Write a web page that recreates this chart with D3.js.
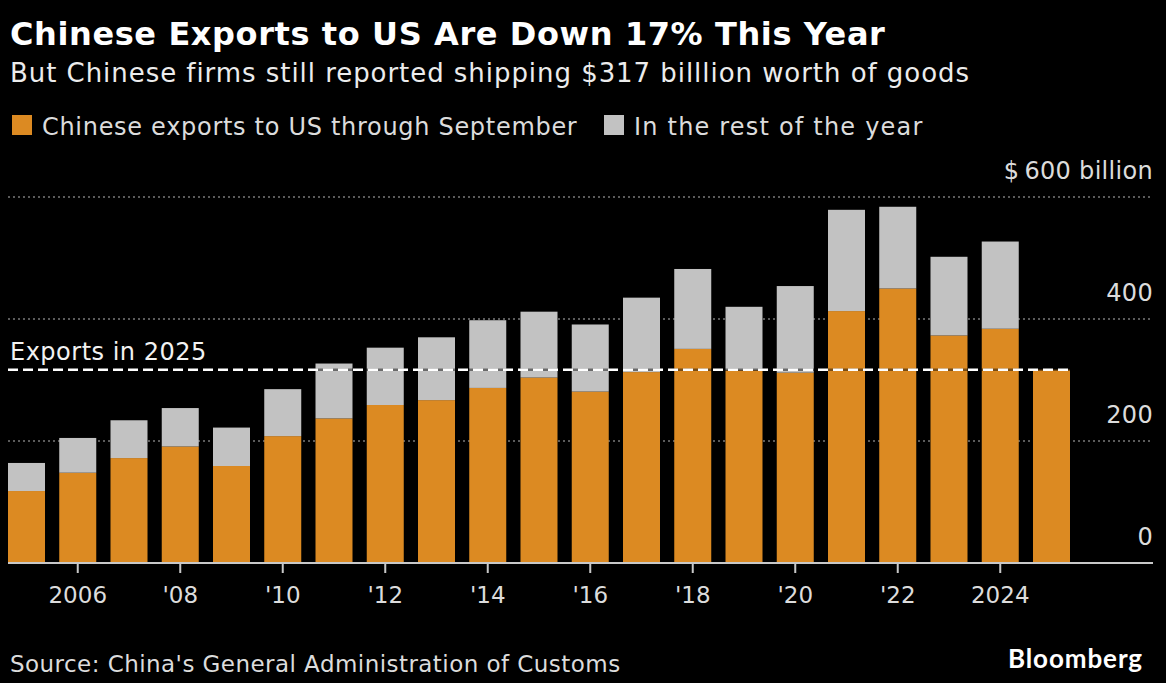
<!DOCTYPE html>
<html>
<head>
<meta charset="utf-8">
<script src="https://cdn.jsdelivr.net/npm/d3@7"></script>
<style>
  html, body { margin: 0; padding: 0; background: #000; }
  svg { display: block; font-family: "DejaVu Sans", sans-serif; }
</style>
</head>
<body>
<svg id="chart" width="1166" height="683"></svg>
<script>
// Years on the x axis
var years = [2005, 2006, 2007, 2008, 2009, 2010, 2011, 2012, 2013, 2014, 2015,
             2016, 2017, 2018, 2019, 2020, 2021, 2022, 2023, 2024, 2025];

// Exports to US Jan-Sep ($ billion)
var throughSep = [118, 148, 172, 191, 159, 208, 237, 259, 267, 287, 304,
                  281, 313, 351, 316, 312, 413, 450, 373, 384, 317];

// Exports to US Oct-Dec ($ billion), nothing yet for 2025
var restOfYear = [46, 57, 62, 63, 63, 77, 90, 94, 103, 111, 108,
                  110, 122, 131, 104, 142, 166, 134, 129, 143, 0];

// 2025 reference line
var exports2025 = 317;

// axis ticks
var xTickYears = [2006, 2008, 2010, 2012, 2014, 2016, 2018, 2020, 2022, 2024];
var xTickLabels = ["2006", "'08", "'10", "'12", "'14", "'16", "'18", "'20", "'22", "2024"];
var yTicks = [0, 200, 400, 600];
var yTickLabels = ["0", "200", "400", "$\u2009600 billion"];

var seriesNames = ["Chinese exports to US through September", "In the rest of the year"];
var seriesColors = ["#dc8a22", "#c2c2c2"];

var svg = d3.select("#chart");

// Header
svg.append("text")
  .attr("x", 10).attr("y", 45)
  .attr("fill", "#fff")
  .attr("font-size", 32).attr("font-weight", "bold")
  .attr("letter-spacing", 0.6)
  .text("Chinese Exports to US Are Down 17% This Year");

svg.append("text")
  .attr("x", 10).attr("y", 82)
  .attr("fill", "#ececec")
  .attr("font-size", 26)
  .attr("letter-spacing", 0.95)
  .text("But Chinese firms still reported shipping $317 billlion worth of goods");

// Legend
var legendX = [12, 604];
var legendSpacing = [0.7, 1.2];
seriesNames.forEach(function(name, i) {
  svg.append("rect")
    .attr("x", legendX[i]).attr("y", 115)
    .attr("width", 20).attr("height", 20)
    .attr("fill", seriesColors[i]);
  svg.append("text")
    .attr("x", legendX[i] + 30).attr("y", 135)
    .attr("fill", "#dcdcdc")
    .attr("font-size", 24)
    .attr("letter-spacing", legendSpacing[i])
    .text(name);
});

// Scales
var x = d3.scaleBand()
  .domain(years)
  .range([8, 1070])
  .paddingInner(0.278)
  .paddingOuter(0);

var y = d3.scaleLinear()
  .domain([0, 600])
  .range([563, 197]);

// Gridlines (dotted)
svg.append("g")
  .selectAll("line")
  .data(yTicks.filter(function(d) { return d > 0; }))
  .join("line")
  .attr("x1", 8).attr("x2", 1153)
  .attr("y1", function(d) { return y(d); })
  .attr("y2", function(d) { return y(d); })
  .attr("stroke", "#7a7a7a")
  .attr("stroke-width", 1.5)
  .attr("stroke-dasharray", "2,3");

// Right-hand y labels sit above their gridlines
svg.append("g")
  .selectAll("text")
  .data(yTicks)
  .join("text")
  .attr("x", 1153)
  .attr("y", function(d) { return y(d) - 18; })
  .attr("text-anchor", "end")
  .attr("fill", "#dcdcdc")
  .attr("font-size", 24)
  .attr("letter-spacing", 0.3)
  .text(function(d, i) { return yTickLabels[i]; });

// Stacked bars
var table = years.map(function(yr, i) {
  return { year: yr, sep: throughSep[i], rest: restOfYear[i] };
});
var stacked = d3.stack().keys(["sep", "rest"])(table);

svg.append("g")
  .selectAll("g")
  .data(stacked)
  .join("g")
  .attr("fill", function(d, i) { return seriesColors[i]; })
  .selectAll("rect")
  .data(function(d) { return d; })
  .join("rect")
  .attr("x", function(d) { return x(d.data.year); })
  .attr("y", function(d) { return y(d[1]); })
  .attr("width", x.bandwidth())
  .attr("height", function(d) { return y(d[0]) - y(d[1]); });

// Baseline + ticks
svg.append("line")
  .attr("x1", 8).attr("x2", 1153)
  .attr("y1", y(0)).attr("y2", y(0))
  .attr("stroke", "#c8c8c8")
  .attr("stroke-width", 2);

var xAxis = d3.axisBottom(x)
  .tickValues(xTickYears)
  .tickSize(10)
  .tickSizeOuter(0)
  .tickPadding(14)
  .tickFormat(function(d) { return xTickLabels[xTickYears.indexOf(d)]; });

var gx = svg.append("g")
  .attr("transform", "translate(0," + y(0) + ")")
  .call(xAxis);
gx.select(".domain").remove();
gx.selectAll(".tick line").attr("stroke", "#c8c8c8").attr("stroke-width", 2);
gx.selectAll(".tick text")
  .attr("fill", "#dcdcdc")
  .attr("font-size", 23)
  .attr("font-family", "DejaVu Sans, sans-serif");

// 2025 level dashed line
var refY = y(exports2025);
svg.append("line")
  .attr("x1", 8).attr("x2", x(2025) + x.bandwidth())
  .attr("y1", refY).attr("y2", refY)
  .attr("stroke", "#000").attr("stroke-opacity", 0.45)
  .attr("stroke-width", 2.5);
svg.append("line")
  .attr("x1", 8).attr("x2", x(2025) + x.bandwidth())
  .attr("y1", refY).attr("y2", refY)
  .attr("stroke", "#fff")
  .attr("stroke-width", 2.5)
  .attr("stroke-dasharray", "10,5");

svg.append("text")
  .attr("x", 10).attr("y", refY - 10)
  .attr("fill", "#f2f2f2")
  .attr("font-size", 24)
  .attr("letter-spacing", 0.5)
  .text("Exports in 2025");

// Footer
svg.append("text")
  .attr("x", 10).attr("y", 672)
  .attr("fill", "#dcdcdc")
  .attr("font-size", 23)
  .attr("letter-spacing", 0.45)
  .text("Source: China's General Administration of Customs");

svg.append("text")
  .attr("x", 1143).attr("y", 668)
  .attr("text-anchor", "end")
  .attr("fill", "#fff")
  .attr("font-family", "Lato, sans-serif")
  .attr("font-weight", "bold")
  .attr("font-size", 26)
  .attr("letter-spacing", 0.9)
  .text("Bloomberg");
</script>
</body>
</html>
